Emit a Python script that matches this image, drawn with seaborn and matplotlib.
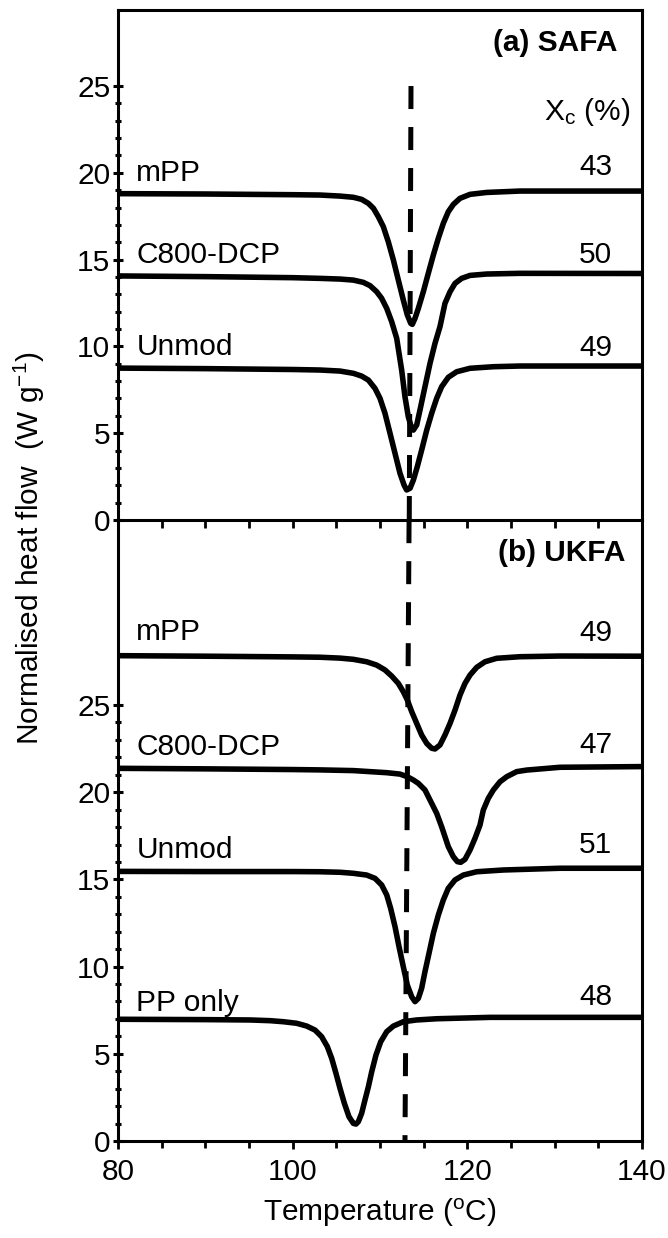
import numpy as np
import pandas as pd
import matplotlib
matplotlib.use("Agg")
import matplotlib.pyplot as plt
import seaborn as sns
from matplotlib.ticker import FixedLocator

# ---------------- data ----------------
# (a) SAFA
a_mpp_T = [80, 90, 100, 103.13, 105.42, 106.95, 107.90, 108.67, 109.24, 109.81, 110.38, 110.95, 111.53,
           112.10, 112.67, 113.13, 113.52, 113.70, 114.01, 114.39, 114.96, 115.53, 116.11, 116.68,
           117.25, 117.82, 118.40, 119.16, 120.31, 122.22, 126.03, 140]
a_mpp_Q = [18.80, 18.78, 18.74, 18.72, 18.66, 18.59, 18.47, 18.24, 17.96, 17.47, 16.90, 16.03, 14.98,
           13.82, 12.67, 11.81, 11.33, 11.27, 11.62, 12.19, 13.15, 14.21, 15.27, 16.23,
           17.09, 17.76, 18.18, 18.53, 18.76, 18.87, 18.95, 18.95]

a_c800_T = [80, 90, 100, 103.13, 105.42, 106.95, 108.09, 108.86, 109.62, 110.19, 110.77, 111.34, 111.91,
            112.48, 112.86, 113.24, 113.63, 113.82, 114.20, 114.58, 115.15, 115.73, 116.30, 116.87,
            117.44, 118.02, 118.59, 119.35, 120.31, 122.22, 126.03, 140]
a_c800_Q = [14.06, 14.02, 13.96, 13.92, 13.88, 13.82, 13.69, 13.50, 13.15, 12.77, 12.19, 11.42, 10.47,
            8.64, 7.10, 5.95, 5.28, 5.18, 5.47, 6.34, 7.68, 9.03, 10.18, 11.14,
            12.48, 13.15, 13.63, 13.92, 14.09, 14.17, 14.21, 14.2]

a_unmod_T = [80, 90, 100, 103.13, 105.42, 106.95, 107.90, 108.67, 109.43, 110.0, 110.57, 111.15, 111.72,
             112.29, 112.75, 113.05, 113.44, 113.82, 114.27, 114.77, 115.35, 115.92, 116.49, 117.06,
             117.82, 118.78, 120.31, 122.98, 126.03, 140]
a_unmod_Q = [8.75, 8.72, 8.67, 8.64, 8.58, 8.45, 8.29, 8.06, 7.58, 7.01, 6.15, 4.99, 3.84,
             2.69, 2.02, 1.73, 1.83, 2.30, 3.07, 4.03, 5.18, 6.15, 7.01, 7.68,
             8.22, 8.54, 8.74, 8.83, 8.87, 8.87]

# (b) UKFA
b_mpp_T = [80, 90, 100, 103.13, 105.42, 106.95, 108.48, 109.62, 110.57, 111.34, 112.10, 112.67, 113.13,
           113.63, 114.20, 114.77, 115.35, 115.92, 116.30, 116.87, 117.44, 118.02, 118.59, 119.16,
           119.73, 120.31, 121.07, 122.02, 123.36, 126.03, 130.61, 140]
b_mpp_Q = [27.83, 27.80, 27.76, 27.74, 27.69, 27.62, 27.48, 27.29, 27.01, 26.66, 26.24, 25.76, 25.29,
           24.62, 23.95, 23.28, 22.80, 22.52, 22.48, 22.71, 23.28, 23.95, 24.71, 25.57,
           26.24, 26.72, 27.16, 27.48, 27.68, 27.77, 27.81, 27.8]

b_c800_T = [80, 90, 100, 103.13, 106.95, 110.77, 112.29, 113.13, 113.82, 114.39, 115.15, 115.92, 116.49,
            117.06, 117.82, 118.40, 118.86, 119.24, 119.73, 120.31, 120.88, 121.45, 121.83, 122.40,
            122.98, 123.74, 124.51, 125.65, 126.80, 130.61, 140]
b_c800_Q = [21.37, 21.34, 21.30, 21.28, 21.24, 21.12, 21.04, 20.89, 20.70, 20.51, 20.13, 19.36, 18.79,
            18.02, 16.88, 16.30, 16.02, 15.98, 16.15, 16.69, 17.36, 18.12, 18.98, 19.65,
            20.13, 20.60, 20.89, 21.18, 21.27, 21.43, 21.47]

b_unmod_T = [80, 90, 100, 103.13, 105.42, 106.95, 108.48, 109.43, 110.19, 110.77, 111.22, 111.72, 112.18,
             112.67, 113.13, 113.63, 114.01, 114.39, 114.77, 115.15, 115.61, 116.11, 116.68, 117.25,
             117.82, 118.59, 119.54, 121.07, 124.12, 130.61, 140]
b_unmod_Q = [15.46, 15.45, 15.45, 15.44, 15.41, 15.35, 15.25, 15.06, 14.68, 14.11, 13.34, 12.29, 11.14,
             9.99, 8.94, 8.27, 7.99, 8.18, 8.76, 9.71, 10.76, 11.91, 12.96, 13.82,
             14.49, 14.97, 15.25, 15.44, 15.54, 15.64, 15.64]

b_pp_T = [80, 90, 95.12, 97.41, 98.93, 100.46, 101.61, 102.56, 103.32, 103.97, 104.47, 104.96, 105.42,
          105.92, 106.45, 106.95, 107.25, 107.52, 107.90, 108.28, 108.67, 109.05, 109.54, 110.08,
          110.77, 111.53, 112.67, 114.20, 116.49, 122.60, 140]
b_pp_Q = [6.98, 6.96, 6.94, 6.90, 6.84, 6.75, 6.59, 6.36, 5.98, 5.41, 4.74, 3.88, 3.02,
          2.16, 1.39, 1.01, 0.97, 1.11, 1.59, 2.35, 3.11, 3.97, 4.93, 5.69,
          6.27, 6.59, 6.84, 6.94, 7.01, 7.09, 7.09]

samples_a = ["mPP", "C800-DCP", "Unmod"]
xc_a = ["43", "50", "49"]
samples_b = ["mPP", "C800-DCP", "Unmod", "PP only"]
xc_b = ["49", "47", "51", "48"]

# reference (dashed) line
ref_a_T = [113.55, 113.35]
ref_a_Q = [25.0, 0.0]
ref_b_T = [113.33, 112.86]
ref_b_Q = [35.6, 0.0]

# ---------------- style ----------------
sns.set_theme(style="white")
plt.rcParams['font.family'] = ['Liberation Sans', 'DejaVu Sans']
plt.rcParams['mathtext.default'] = 'regular'
plt.rcParams['text.color'] = 'black'

FS = 21.5
LW = 4.0

fig = plt.figure(figsize=(6.68, 12.38), dpi=100)
ax_b = fig.add_axes([118/668, 1-1141/1238, 524/668, 621/1238])
ax_a = fig.add_axes([118/668, 1-520/1238, 524/668, 510/1238])
ax_a.set_facecolor("none")
ax_b.set_facecolor("none")


def frame(df_list, names):
    rows = []
    for (T, Q), n in zip(df_list, names):
        rows.append(pd.DataFrame({"T": T, "Q": Q, "sample": n}))
    return pd.concat(rows, ignore_index=True)


df_a = frame([(a_mpp_T, a_mpp_Q), (a_c800_T, a_c800_Q), (a_unmod_T, a_unmod_Q)], samples_a)
df_b = frame([(b_mpp_T, b_mpp_Q), (b_c800_T, b_c800_Q), (b_unmod_T, b_unmod_Q), (b_pp_T, b_pp_Q)],
             samples_b)

for ax, df in [(ax_a, df_a), (ax_b, df_b)]:
    sns.lineplot(data=df, x="T", y="Q", units="sample", estimator=None, sort=False,
                 color="black", lw=LW, ax=ax, solid_joinstyle="round", solid_capstyle="butt")

dash = dict(color="black", lw=3.6, dashes=(4.6, 3.6))
sns.lineplot(x=ref_a_T, y=ref_a_Q, ax=ax_a, sort=False, estimator=None, **dash)
sns.lineplot(x=ref_b_T, y=ref_b_Q, ax=ax_b, sort=False, estimator=None, **dash)

ax_a.set_xlim(80, 140)
ax_b.set_xlim(80, 140)
ax_a.set_ylim(0, 29.38)
ax_b.set_ylim(0, 35.61)

for ax in (ax_a, ax_b):
    ax.set_xlabel("")
    ax.set_ylabel("")
    for s in ax.spines.values():
        s.set_color("black")
        s.set_linewidth(2.2)
    ax.set_yticks([0, 5, 10, 15, 20, 25])
    ax.yaxis.set_minor_locator(FixedLocator(list(range(0, 26))))
    ax.tick_params(axis="y", which="major", left=True, direction="inout", length=7, width=2.2,
                   color="black", labelsize=FS, pad=2, labelcolor="black")
    ax.tick_params(axis="y", which="minor", left=True, direction="inout", length=4.5, width=2.2,
                   color="black")

ax_b.spines["top"].set_visible(False)

# top panel x ticks
ax_a.set_xticks(list(range(80, 141, 5)))
ax_a.tick_params(axis="x", which="major", bottom=True, direction="out", length=5.5, width=2,
                 color="black", labelbottom=False)

# bottom panel x ticks
ax_b.set_xticks([80, 100, 120, 140])
ax_b.xaxis.set_minor_locator(FixedLocator(list(range(80, 141, 5))))
ax_b.tick_params(axis="x", which="major", bottom=True, direction="out", length=6, width=2,
                 color="black", labelsize=FS, pad=6, labelcolor="black")
ax_b.tick_params(axis="x", which="minor", bottom=True, direction="out", length=5, width=2,
                 color="black")

ax_b.set_xlabel("Temperature ($^{o}$C)", fontsize=FS, color="black", labelpad=8)
fig.text(29/668, 1-548/1238, "Normalised heat flow  (W g$^{-1}$)", rotation=90,
         fontsize=FS, ha="center", va="center", color="black")

# annotations
ax_a.text(137.14, 27.48, "(a) SAFA", fontsize=FS, fontweight="bold", ha="right", va="center",
          color="black")
ax_b.text(138.06, 33.72, "(b) UKFA", fontsize=FS, fontweight="bold", ha="right", va="center",
          color="black")
ax_a.text(138.63, 23.5, "X$_c$ (%)", fontsize=FS, ha="right", va="center", color="black")

lab_a_y = [19.97, 15.27, 9.98]
xc_a_y = [20.33, 15.27, 9.89]
for name, ly, xc, xy in zip(samples_a, lab_a_y, xc_a, xc_a_y):
    ax_a.text(82.1, ly, name, fontsize=FS, ha="left", va="center", color="black")
    ax_a.text(136.57, xy, xc, fontsize=FS, ha="right", va="center", color="black")

lab_b_y = [29.2, 22.61, 16.69, 7.9]
xc_b_y = [29.11, 22.71, 16.97, 8.27]
for name, ly, xc, xy in zip(samples_b, lab_b_y, xc_b, xc_b_y):
    ax_b.text(82.1, ly, name, fontsize=FS, ha="left", va="center", color="black")
    ax_b.text(136.57, xy, xc, fontsize=FS, ha="right", va="center", color="black")

fig.savefig("out.png", dpi=100, facecolor="white")
